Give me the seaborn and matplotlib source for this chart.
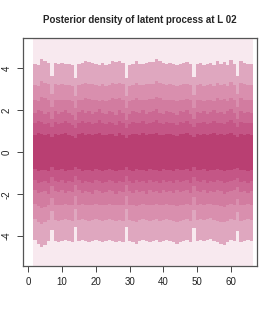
import matplotlib
matplotlib.use("Agg")
import matplotlib.pyplot as plt
import numpy as np
import seaborn as sns

# time steps (column centres)
steps = list(range(2, 67))

# outer band edges read per column (upper / lower)
upper = [4.20, 4.15, 4.45, 4.35, 4.25, 3.65, 4.25, 4.20, 4.25, 4.22,
         4.20, 4.15, 3.55, 4.20, 4.25, 4.35, 4.30, 4.25, 4.20, 4.15,
         4.25, 4.15, 4.20, 4.35, 4.30, 4.35, 4.25, 3.55, 4.15, 4.20,
         4.35, 4.20, 4.20, 4.25, 4.30, 4.30, 4.45, 4.35, 4.25, 4.20,
         4.25, 4.20, 4.15, 4.20, 4.25, 4.30, 4.20, 3.60, 4.20, 4.25,
         4.15, 4.20, 4.25, 4.15, 4.35, 4.20, 4.30, 4.15, 4.40, 4.20,
         3.65, 4.35, 4.25, 4.20, 4.22]
lower = [-4.20, -4.35, -4.50, -4.40, -4.25, -3.70, -4.25, -4.30, -4.25, -4.20,
         -4.25, -4.30, -3.55, -4.25, -4.20, -4.25, -4.30, -4.25, -4.20, -4.25,
         -4.30, -4.25, -4.20, -4.25, -4.30, -4.25, -4.30, -3.55, -4.25, -4.30,
         -4.35, -4.25, -4.20, -4.25, -4.30, -4.25, -4.20, -4.30, -4.25, -4.20,
         -4.25, -4.30, -4.35, -4.30, -4.25, -4.20, -4.30, -3.60, -4.25, -4.20,
         -4.25, -4.20, -4.15, -4.25, -4.30, -4.35, -4.40, -4.30, -4.20, -4.25,
         -3.75, -4.30, -4.25, -4.20, -4.25]

# inner band edges (the ~50% band) read per column
upper_in = [1.85, 2.00, 1.95, 1.80, 1.90, 1.60, 1.95, 1.80, 1.90, 2.00,
            1.85, 1.75, 1.55, 1.90, 2.00, 1.85, 1.95, 1.80, 1.90, 2.05,
            1.85, 1.80, 1.95, 1.90, 1.75, 2.00, 1.85, 1.55, 1.80, 1.95,
            1.90, 1.85, 2.00, 1.80, 1.90, 1.95, 2.05, 1.85, 1.80, 1.95,
            1.90, 1.85, 1.75, 1.95, 1.90, 2.00, 1.80, 1.60, 1.90, 1.85,
            1.95, 1.80, 1.90, 2.00, 1.85, 1.90, 1.80, 1.95, 2.05, 1.85,
            1.60, 1.95, 1.85, 1.90, 1.85]
lower_in = [-1.80, -1.95, -1.90, -1.85, -2.00, -1.60, -1.85, -1.90, -1.80, -1.95,
            -1.85, -1.90, -1.55, -1.80, -1.95, -1.85, -1.90, -2.00, -1.80, -1.85,
            -1.95, -1.90, -1.80, -1.85, -2.00, -1.85, -1.90, -1.55, -1.85, -1.95,
            -1.80, -1.90, -1.85, -2.00, -1.80, -1.90, -1.85, -1.95, -1.80, -1.90,
            -1.85, -1.95, -1.80, -1.90, -1.85, -1.80, -1.95, -1.60, -1.85, -1.90,
            -1.80, -1.95, -1.85, -1.90, -1.80, -1.85, -2.00, -1.90, -1.85, -1.80,
            -1.65, -1.90, -1.85, -1.95, -1.85]

# relative width of each quantile band vs its reference edge
outer_frac = [1.0, 0.76, 0.59]
inner_frac = [1.0, 0.74, 0.45]
band_cols = ["#dfa7bf", "#d98fae", "#d27ca0", "#cb6893", "#c45686", "#b93f72"]
bg_col = "#f8e9ef"

sns.set_theme(style="white")
plt.rcParams["font.family"] = ["Liberation Sans", "DejaVu Sans"]

fig = plt.figure(figsize=(2.75, 3.14), dpi=100)
ax = fig.add_axes([0.0836, 0.1529, 0.851, 0.726])

x = np.array(steps)
edges = ([(np.array(upper) * f, np.array(lower) * f) for f in outer_frac]
         + [(np.array(upper_in) * f, np.array(lower_in) * f) for f in inner_frac])

ax.bar(x, 12, bottom=-6, width=1.0, color=bg_col, linewidth=0)
for (up, lo), col in zip(edges, band_cols):
    ax.bar(x, up - lo, bottom=lo, width=1.0, color=col, linewidth=0)

ax.set_xlim(-1.57, 67.7)
ax.set_ylim(-5.42, 5.44)
ax.set_xticks([0, 10, 20, 30, 40, 50, 60])
ax.set_yticks([-4, -2, 0, 2, 4])
ax.set_yticklabels(["-4", "-2", "0", "2", "4"], rotation=90, va="center")
ax.tick_params(axis="both", which="both", direction="out", length=4, width=0.7,
               color="#444444", labelsize=7, labelcolor="#222222", pad=4,
               bottom=True, left=True)
for s in ax.spines.values():
    s.set_color("#555555")
    s.set_linewidth(0.9)

fig.text(0.509, 0.936, "Posterior density of latent process at L 02",
         ha="center", va="center", fontsize=7, fontweight="bold")

fig.savefig("out.png", dpi=100)
